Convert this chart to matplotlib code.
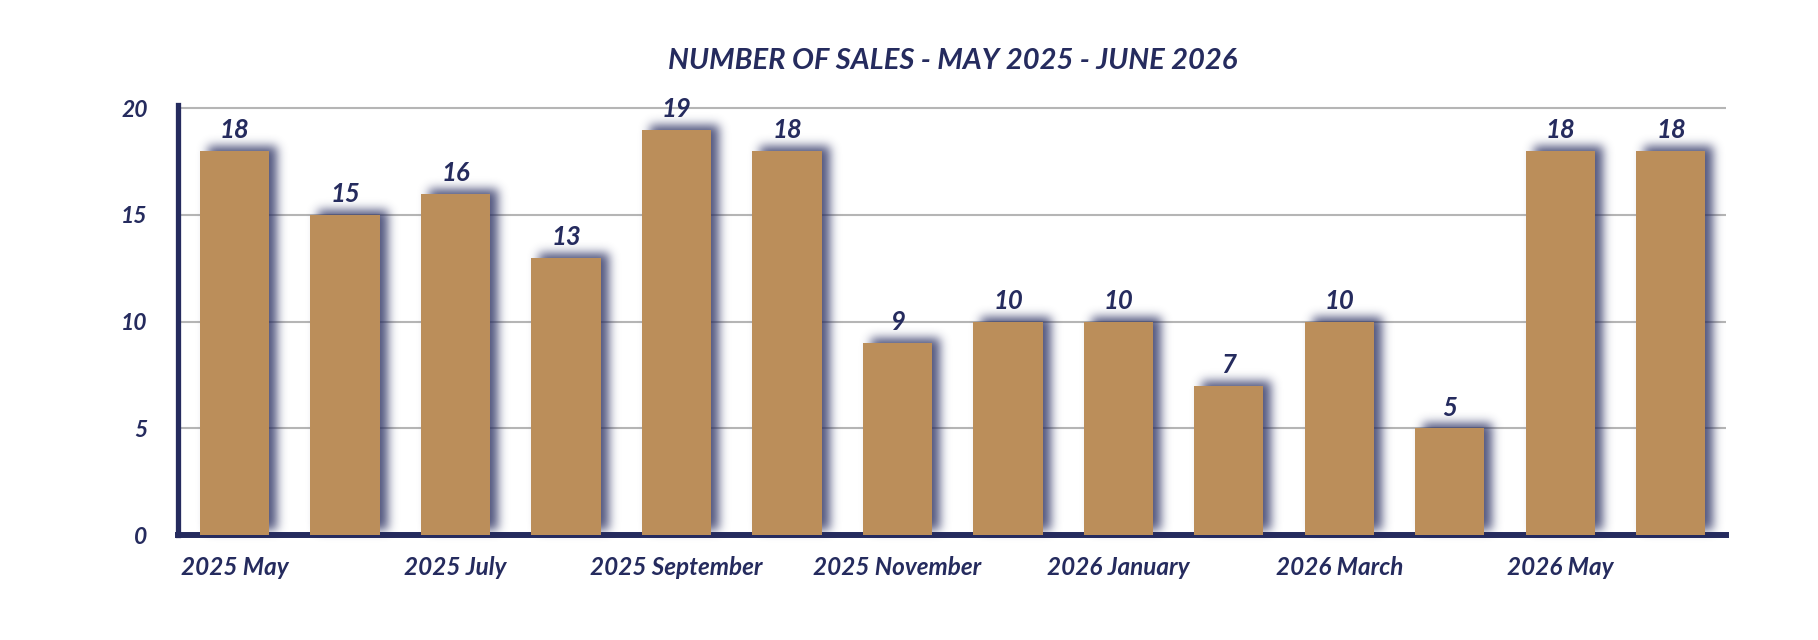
import numpy as np
import matplotlib
matplotlib.use("Agg")
import matplotlib.pyplot as plt

# data
months = ["2025 May", "2025 June", "2025 July", "2025 August", "2025 September",
          "2025 October", "2025 November", "2025 December", "2026 January",
          "2026 February", "2026 March", "2026 April", "2026 May", "2026 June"]
sales = [18, 15, 16, 13, 19, 18, 9, 10, 10, 7, 10, 5, 18, 18]
yticks = [0, 5, 10, 15, 20]

NAVY = "#252B5E"
GOLD = "#BB8E5A"
GRID = "#B5B5B5"

plt.rcParams['font.family'] = ['Lato', 'DejaVu Sans']


def gauss_blur(a, sigma):
    r = int(3 * sigma)
    k = np.exp(-0.5 * (np.arange(-r, r + 1) / sigma) ** 2)
    k /= k.sum()
    a = np.apply_along_axis(lambda m: np.convolve(m, k, mode="same"), 0, a)
    a = np.apply_along_axis(lambda m: np.convolve(m, k, mode="same"), 1, a)
    return a


def shadow_filter(im, dpi):
    # blurred navy copy of the bars, shifted right and up
    pad = 26
    alpha = np.pad(im[:, :, 3], pad)
    alpha = gauss_blur(alpha, 5.0)
    out = np.zeros(alpha.shape + (4,))
    rgb = matplotlib.colors.to_rgb(NAVY)
    out[:, :, 0] = rgb[0]
    out[:, :, 1] = rgb[1]
    out[:, :, 2] = rgb[2]
    out[:, :, 3] = np.clip(alpha * 0.8, 0, 1)
    return out, 8 - pad, 5 - pad


fig = plt.figure(figsize=(18.18, 6.4), dpi=100)
ax = fig.add_axes([0.098, 0.164, 0.8515, 0.672])

x = np.arange(len(sales))
width = 0.625

# shadows
sh = ax.bar(x, sales, width=width, color=NAVY, zorder=2)
for p in sh:
    p.set_agg_filter(shadow_filter)
    p.set_rasterized(True)

bars = ax.bar(x, sales, width=width, color=GOLD, zorder=3)

for xi, v in zip(x, sales):
    ax.annotate(str(v), (xi, v), xytext=(0, 9), textcoords="offset points",
                ha="center", va="baseline", fontsize=18.5, fontweight="bold",
                fontstyle="italic", color=NAVY, zorder=5)

ax.set_xlim(-0.51, 13.5)
ax.set_ylim(0, 20.15)

ax.set_yticks(yticks)
ax.set_yticklabels([str(t) for t in yticks])
ax.set_xticks(x[::2])
ax.set_xticklabels(months[::2])

for lab in ax.get_xticklabels() + ax.get_yticklabels():
    lab.set_fontweight("bold")
    lab.set_fontstyle("italic")
    lab.set_color(NAVY)
ax.tick_params(axis="y", length=0, pad=22, labelsize=16.5)
ax.tick_params(axis="x", length=0, pad=15, labelsize=17.5)

ax.yaxis.grid(True, color=GRID, linewidth=1.5, zorder=1)
ax.set_axisbelow(True)

for s in ["top", "right"]:
    ax.spines[s].set_visible(False)
ax.spines["left"].set_color(NAVY)
ax.spines["left"].set_linewidth(3.8)
ax.spines["bottom"].set_color(NAVY)
ax.spines["bottom"].set_linewidth(4.3)
ax.spines["bottom"].set_zorder(1.5)
ax.spines["left"].set_zorder(1.5)

ax.set_title("NUMBER OF SALES - MAY 2025 - JUNE 2026", fontsize=21,
             fontweight="bold", fontstyle="italic", color=NAVY, pad=26)

fig.savefig("out.png", dpi=100)
